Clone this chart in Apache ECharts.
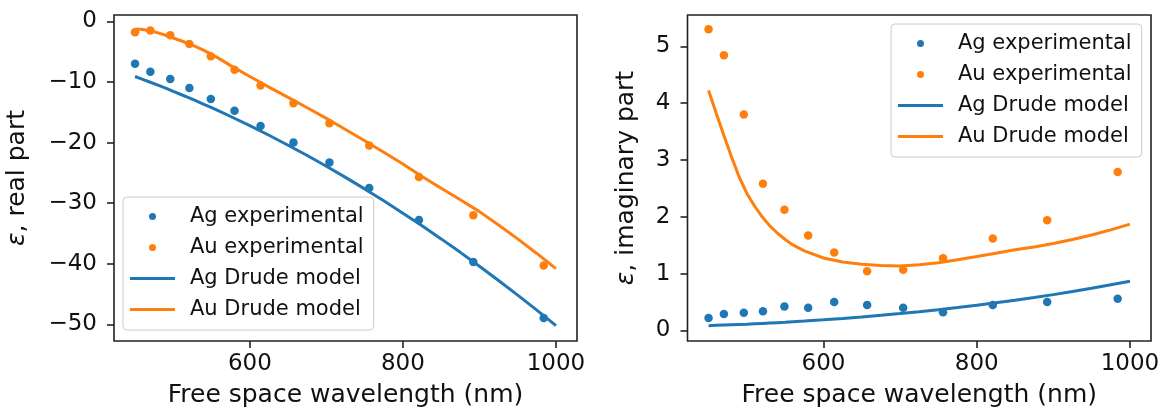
<!DOCTYPE html>
<html>
<head>
<meta charset="utf-8">
<script src="https://cdn.jsdelivr.net/npm/echarts@6/dist/echarts.min.js"></script>
<style>
  html, body { margin: 0; padding: 0; background: #fff; }
  #chart { width: 1163px; height: 411px; }
</style>
</head>
<body>
<div id="chart"></div>
<script>
// Measured permittivity of silver and gold (free-space wavelength in nm)
const expWl = [450, 470, 496, 521, 549, 580, 614, 657, 704, 756, 821, 892, 984];
const agExpRe = [-7.0, -8.3, -9.5, -11.0, -12.8, -14.75, -17.25, -20.0, -23.3, -27.5, -32.8, -39.7, -48.95];
const auExpRe = [-1.8, -1.5, -2.3, -3.75, -5.75, -8.0, -10.6, -13.5, -16.8, -20.5, -25.7, -32.0, -40.3];
const agExpIm = [0.22, 0.29, 0.31, 0.34, 0.42, 0.40, 0.50, 0.45, 0.40, 0.32, 0.45, 0.50, 0.56];
const auExpIm = [5.30, 4.84, 3.80, 2.58, 2.125, 1.67, 1.37, 1.04, 1.07, 1.27, 1.62, 1.94, 2.79];

// Drude model curves
const drudeWl = [450, 460, 470, 480, 490, 500, 510, 520, 530, 540, 550, 560, 575, 600, 625, 650,
                 675, 700, 725, 750, 775, 800, 825, 850, 875, 900, 925, 950, 975, 1000];
const agDrudeRe = [-9.1, -9.57, -10.05, -10.53, -11.03, -11.55, -12.07, -12.6, -13.14, -13.69, -14.25,
                   -14.82, -15.7, -17.21, -18.79, -20.44, -22.14, -23.91, -25.75, -27.65, -29.62,
                   -31.65, -33.74, -35.9, -38.12, -40.41, -42.76, -45.17, -47.65, -50.2];
const auDrudeRe = [-1.25, -1.35, -1.55, -1.9, -2.3, -2.75, -3.2, -3.65, -4.2, -4.8, -5.45, -6.15,
                   -7.3, -9.1, -10.85, -12.55, -14.25, -16.0, -17.85, -19.7, -21.6, -23.55, -25.6,
                   -27.55, -29.45, -31.4, -33.6, -35.9, -38.3, -40.8];
const agDrudeIm = [0.085, 0.09, 0.095, 0.1, 0.105, 0.11, 0.117, 0.124, 0.131, 0.138, 0.145, 0.153,
                   0.165, 0.188, 0.212, 0.238, 0.267, 0.298, 0.33, 0.366, 0.403, 0.443, 0.486,
                   0.532, 0.58, 0.631, 0.685, 0.742, 0.803, 0.866];
const auDrudeIm = [4.22, 3.82, 3.43, 3.05, 2.7, 2.41, 2.19, 2.0, 1.84, 1.71, 1.6, 1.505, 1.4, 1.275,
                   1.205, 1.165, 1.145, 1.135, 1.155, 1.19, 1.245, 1.3, 1.36, 1.42, 1.47, 1.53, 1.6,
                   1.68, 1.77, 1.87];

// Tick labels
const xTicks = [600, 800, 1000];
const yTicksRe = [-50, -40, -30, -20, -10, 0];
const yTicksIm = [0, 1, 2, 3, 4, 5];

const seriesNames = ['Ag experimental', 'Au experimental', 'Ag Drude model', 'Au Drude model'];
const BLUE = '#1f77b4';
const ORANGE = '#ff7f0e';
const FONT = 'DejaVu Sans';
const INK = '#111111';
// legend glyph for the model curves: a plain stroke, no marker
const LINE_ICON = 'path://M0,0 L45,0 L45,3 L0,3 Z';

const zip = (xs, ys) => xs.map((x, i) => [x, ys[i]]);
const fmt = v => (v < 0 ? '\u2212' + Math.abs(v) : String(v));

function xAxisFor(gridIndex) {
  return {
    type: 'value', gridIndex, min: 422.5, max: 1027.5,
    name: 'Free space wavelength (nm)', nameLocation: 'middle', nameGap: 42,
    nameMoveOverlap: false,
    nameTextStyle: { fontFamily: FONT, fontSize: 25, color: INK },
    axisLine: { show: false, onZero: false },
    axisTick: { show: true, inside: false, length: 7, customValues: xTicks,
                lineStyle: { color: '#222', width: 1.6 } },
    axisLabel: { customValues: xTicks, formatter: fmt, fontFamily: FONT, fontSize: 23,
                 color: INK, margin: 12 },
    splitLine: { show: false }
  };
}

function yAxisFor(gridIndex, min, max, ticks, label, gap) {
  return {
    type: 'value', gridIndex, min, max,
    name: '{e|\u03b5}, ' + label, nameLocation: 'middle', nameGap: gap,
    nameMoveOverlap: false,
    nameTextStyle: { fontFamily: FONT, fontSize: 25, color: INK,
                     rich: { e: { fontFamily: FONT, fontSize: 25, fontStyle: 'italic', color: INK } } },
    axisLine: { show: false, onZero: false },
    axisTick: { show: true, inside: false, length: 7, customValues: ticks,
                lineStyle: { color: '#222', width: 1.6 } },
    axisLabel: { customValues: ticks, formatter: fmt, fontFamily: FONT, fontSize: 23,
                 color: INK, margin: 17 },
    splitLine: { show: false }
  };
}

function panelSeries(idx, agExp, auExp, agDrude, auDrude) {
  const scatter = (name, ys, color) => ({
    type: 'scatter', name, xAxisIndex: idx, yAxisIndex: idx, z: 2,
    data: zip(expWl, ys), symbol: 'circle', symbolSize: 8.5,
    itemStyle: { color, borderWidth: 0, opacity: 1 }
  });
  const line = (name, ys, color) => ({
    type: 'line', name, xAxisIndex: idx, yAxisIndex: idx, z: 3,
    data: zip(drudeWl, ys), symbol: 'none', showSymbol: false,
    lineStyle: { color, width: 3 }, itemStyle: { color }
  });
  return [
    scatter(seriesNames[0], agExp, BLUE),
    scatter(seriesNames[1], auExp, ORANGE),
    line(seriesNames[2], agDrude, BLUE),
    line(seriesNames[3], auDrude, ORANGE)
  ];
}

function legendAt(left, top) {
  return {
    data: [
      { name: seriesNames[0], icon: 'circle' },
      { name: seriesNames[1], icon: 'circle' },
      { name: seriesNames[2], icon: LINE_ICON },
      { name: seriesNames[3], icon: LINE_ICON }
    ],
    orient: 'vertical', left, top,
    itemWidth: 45, itemHeight: 7, itemGap: 10,
    padding: [9, 10, 10, 7],
    backgroundColor: 'rgba(255,255,255,0.8)',
    borderColor: '#cccccc', borderWidth: 1, borderRadius: 4,
    selectedMode: false,
    textStyle: { fontFamily: FONT, fontSize: 21, lineHeight: 21, color: INK, padding: [0, 0, 0, 10] }
  };
}

const chart = echarts.init(document.getElementById('chart'), null, { renderer: 'canvas' });
chart.setOption({
  animation: false,
  backgroundColor: '#ffffff',
  grid: [
    { left: 114, top: 15, width: 463, height: 326, show: true, borderColor: '#222',
      borderWidth: 1.6, backgroundColor: 'transparent', outerBoundsMode: 'none' },
    { left: 687.5, top: 15, width: 463.5, height: 326, show: true, borderColor: '#222',
      borderWidth: 1.6, backgroundColor: 'transparent', outerBoundsMode: 'none' }
  ],
  xAxis: [xAxisFor(0), xAxisFor(1)],
  yAxis: [
    yAxisFor(0, -52.75, 1.05, yTicksRe, 'real part', 84),
    yAxisFor(1, -0.185, 5.55, yTicksIm, 'imaginary part', 49)
  ],
  legend: [legendAt(123, 197), legendAt(891, 24)],
  series: [
    ...panelSeries(0, agExpRe, auExpRe, agDrudeRe, auDrudeRe),
    ...panelSeries(1, agExpIm, auExpIm, agDrudeIm, auDrudeIm)
  ]
});
</script>
</body>
</html>
